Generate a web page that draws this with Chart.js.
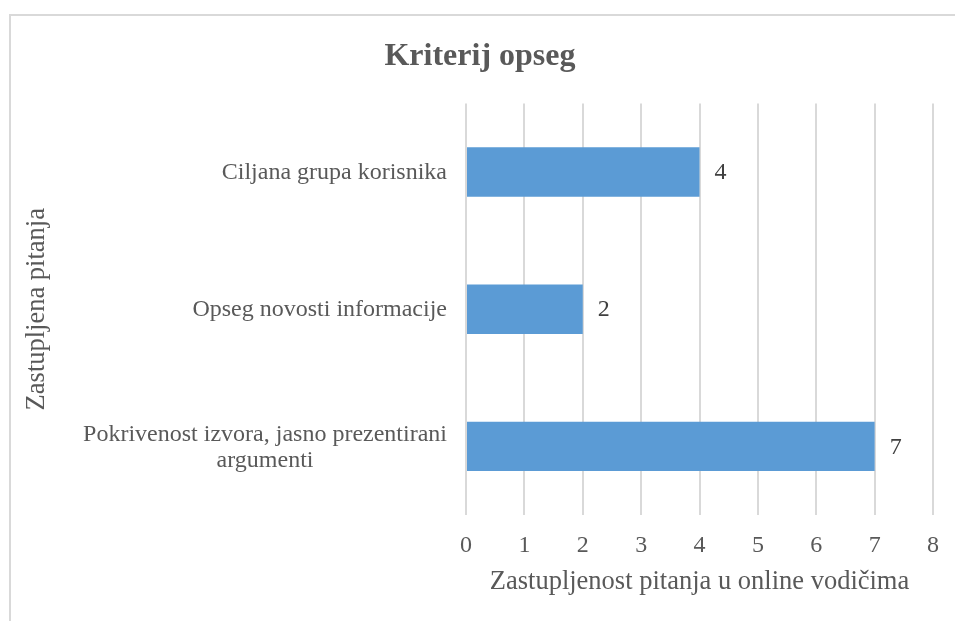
<!DOCTYPE html>
<html>
<head>
<meta charset="utf-8">
<script src="https://cdn.jsdelivr.net/npm/chart.js@4/dist/chart.umd.min.js"></script>
<style>
  html, body { margin: 0; padding: 0; background: #fff; }
  #wrap { width: 955px; height: 621px; position: relative; }
</style>
</head>
<body>
<div id="wrap"><canvas id="opsegChart"></canvas></div>
<script>
// podaci s grafa
const kategorije = [
  'Ciljana grupa korisnika',
  'Opseg novosti informacije',
  ['Pokrivenost izvora, jasno prezentirani', 'argumenti']
];
const vrijednosti = [4, 2, 7];
const xTicks = [0, 1, 2, 3, 4, 5, 6, 7, 8];

const tekstBoja = '#595959';
const serif = "'Liberation Serif', 'Times New Roman', serif";

// okvir oko grafa (samo gornji i lijevi rub vidljiv)
const okvirPlugin = {
  id: 'okvir',
  beforeDraw(chart) {
    const ctx = chart.ctx;
    ctx.save();
    ctx.strokeStyle = '#d9d9d9';
    ctx.lineWidth = 2;
    ctx.strokeRect(10, 15, 960, 620);
    ctx.restore();
  }
};

// oznake kategorija - linije centrirane međusobno, desno poravnate uz os
const kategorijePlugin = {
  id: 'kategorije',
  afterDraw(chart) {
    const ctx = chart.ctx;
    const y = chart.scales.y;
    ctx.save();
    ctx.font = '24px ' + serif;
    ctx.fillStyle = tekstBoja;
    ctx.textAlign = 'center';
    ctx.textBaseline = 'middle';
    const desno = y.right - 19;
    const lh = 26;
    kategorije.forEach((lab, i) => {
      const linije = Array.isArray(lab) ? lab : [lab];
      const maxW = Math.max(...linije.map(l => ctx.measureText(l).width));
      const cx = desno - maxW / 2;
      const cy = y.getPixelForValue(i);
      const start = cy - (linije.length - 1) * lh / 2 + 1;
      linije.forEach((l, j) => ctx.fillText(l, cx, start + j * lh));
    });
    ctx.restore();
  }
};

// oznake vrijednosti desno od stupaca
const vrijednostiPlugin = {
  id: 'vrijednosti',
  afterDatasetsDraw(chart) {
    const ctx = chart.ctx;
    const meta = chart.getDatasetMeta(0);
    ctx.save();
    ctx.font = '24px ' + serif;
    ctx.fillStyle = '#404040';
    ctx.textAlign = 'left';
    ctx.textBaseline = 'middle';
    meta.data.forEach((bar, i) => {
      ctx.fillText(String(vrijednosti[i]), bar.x + 15, bar.y + 1);
    });
    ctx.restore();
  }
};

new Chart(document.getElementById('opsegChart'), {
  type: 'bar',
  data: {
    labels: kategorije,
    datasets: [{
      data: vrijednosti,
      backgroundColor: '#5b9bd5',
      borderWidth: 0,
      categoryPercentage: 1,
      barPercentage: 0.36
    }]
  },
  options: {
    indexAxis: 'y',
    responsive: true,
    maintainAspectRatio: false,
    animation: false,
    layout: { padding: { top: 20, left: 17, right: 12, bottom: 19 } },
    plugins: {
      legend: { display: false },
      tooltip: { enabled: false },
      title: {
        display: true,
        text: 'Kriterij opseg',
        color: tekstBoja,
        font: { family: serif, size: 32, weight: 'bold' },
        padding: { top: 18, bottom: 27 }
      }
    },
    scales: {
      x: {
        min: 0,
        max: 8,
        afterBuildTicks(scale) {
          scale.ticks = xTicks.map(v => ({ value: v }));
        },
        afterFit(scale) { scale.height = 87; },
        grid: { color: '#d9d9d9', lineWidth: 2, drawTicks: false },
        border: { display: false },
        ticks: {
          color: tekstBoja,
          font: { family: serif, size: 24 },
          padding: 16
        },
        title: {
          display: true,
          text: 'Zastupljenost pitanja u online vodičima',
          color: tekstBoja,
          font: { family: serif, size: 26.5 },
          padding: { top: 6, bottom: 4 }
        }
      },
      y: {
        grid: { display: false, drawTicks: false },
        border: { display: false },
        ticks: { display: false },
        afterFit(scale) { scale.width = 449; },
        title: {
          display: true,
          text: 'Zastupljena pitanja',
          color: tekstBoja,
          font: { family: serif, size: 26.5 },
          padding: { top: 4, bottom: 4 }
        }
      }
    }
  },
  plugins: [okvirPlugin, kategorijePlugin, vrijednostiPlugin]
});
</script>
</body>
</html>
